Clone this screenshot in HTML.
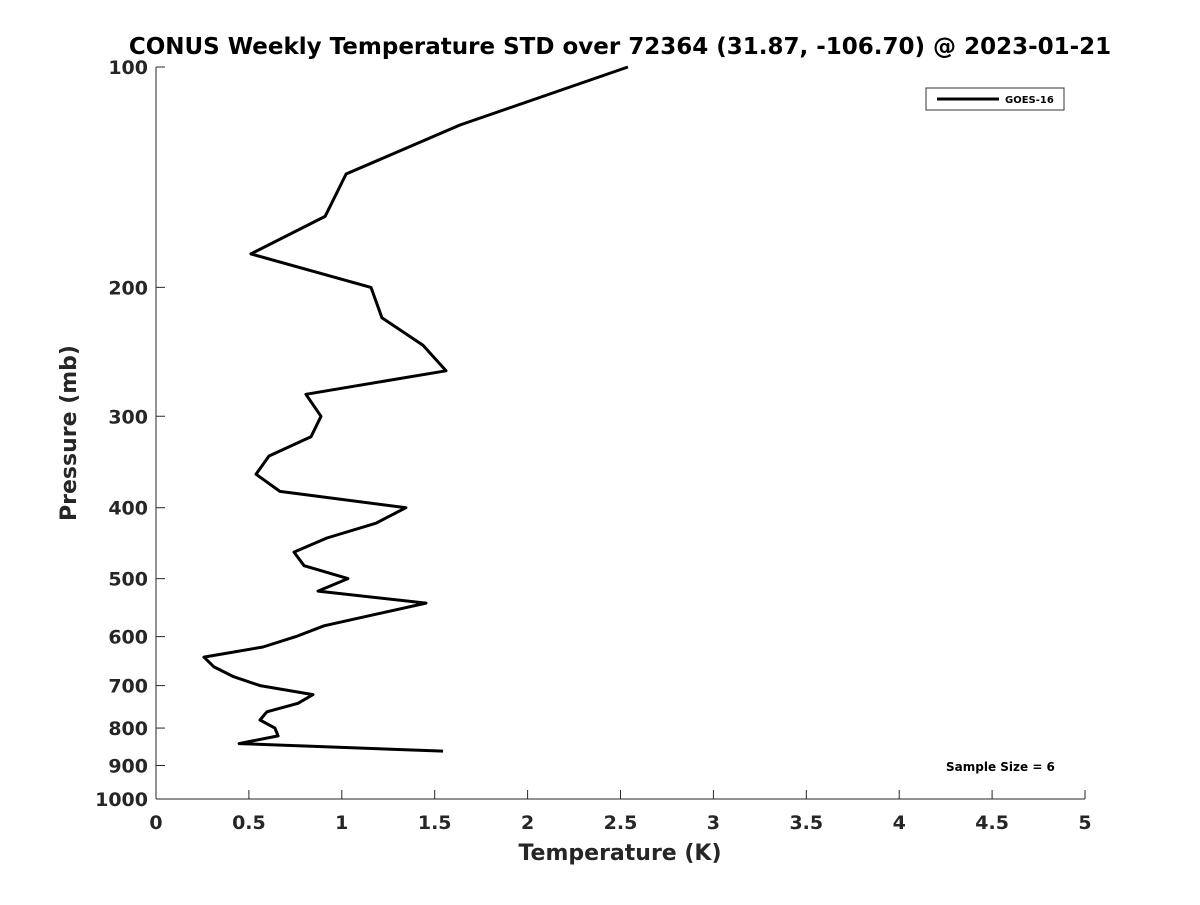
<!DOCTYPE html>
<html><head><meta charset="utf-8"><style>
body{margin:0;background:#fff;}
svg text{font-family:"DejaVu Sans","Liberation Sans",sans-serif;font-weight:bold;fill:#262626;}
</style></head><body>
<svg id="chart" width="1200" height="900" viewBox="0 0 1200 900" xmlns="http://www.w3.org/2000/svg">
<rect width="1200" height="900" fill="#fff"/>
<text x="620" y="54" text-anchor="middle" font-size="23" style="fill:#000">CONUS Weekly Temperature STD over 72364 (31.87, -106.70) @ 2023-01-21</text>
<g id="axes"></g>
<polyline id="line" fill="none" stroke="#000" stroke-width="3" stroke-linejoin="round"/>
<g>
<rect x="926" y="88" width="138" height="22" fill="#fff" stroke="#333" stroke-width="1"/>
<line x1="937" y1="99" x2="999" y2="99" stroke="#000" stroke-width="3"/>
<text x="1005" y="103" font-size="10" style="fill:#000">GOES-16</text>
</g>
<text x="946" y="771" font-size="12" style="fill:#000">Sample Size = 6</text>
<text x="620" y="860" text-anchor="middle" font-size="22">Temperature (K)</text>
<text transform="translate(76,433) rotate(-90)" text-anchor="middle" font-size="22">Pressure (mb)</text>
</svg>
<script>
const temps=[2.54,1.636,1.023,0.910,0.511,1.157,1.216,1.437,1.561,0.807,0.888,0.834,0.608,0.538,0.667,1.345,1.184,0.920,0.743,0.797,1.033,0.872,1.453,0.904,0.753,0.576,0.258,0.312,0.414,0.560,0.845,0.764,0.597,0.560,0.640,0.657,0.447,1.545];
const pressures=[100,120,140,160,180,200,220,240,260,280,300,320,340,360,380,400,420,440,460,480,500,520,540,580,600,620,640,660,680,700,720,740,760,780,800,820,840,860];
const xTicks=[0,0.5,1,1.5,2,2.5,3,3.5,4,4.5,5];
const xTickLabels=["0","0.5","1","1.5","2","2.5","3","3.5","4","4.5","5"];
const yTicks=[100,200,300,400,500,600,700,800,900,1000];
const X0=156,X1=1085,Y0=67,Y1=799;
const xs=v=>X0+(v-0)/5*(X1-X0);
const ys=p=>Y0+(Math.log10(p)-2)*(Y1-Y0);
const NS="http://www.w3.org/2000/svg";
const ax=document.getElementById('axes');
function mk(t,a){const e=document.createElementNS(NS,t);for(const k in a)e.setAttribute(k,a[k]);ax.appendChild(e);return e;}
let e=mk('line',{x1:X0,y1:Y0,x2:X0,y2:Y1,stroke:'#262626','stroke-width':1});


e=mk('line',{x1:X0,y1:Y1,x2:X1,y2:Y1,stroke:'#262626','stroke-width':1});


xTicks.forEach((v,i)=>{
 const t=mk('line',{x1:xs(v),y1:Y1,x2:xs(v),y2:Y1-9,stroke:'#262626'});
 
 
 const l=mk('text',{x:xs(v),y:Y1+30,'text-anchor':'middle','font-size':19});
 
 
 l.textContent=xTickLabels[i];
});
yTicks.forEach(p=>{
 const t=mk('line',{x1:X0,y1:ys(p),x2:X0+9,y2:ys(p),stroke:'#262626'});
 
 
 const l=mk('text',{x:X0-8,y:ys(p)+7,'text-anchor':'end','font-size':19});
 
 
 l.textContent=String(p);
});
document.getElementById('line').setAttribute('points',temps.map((t,i)=>xs(t).toFixed(1)+','+ys(pressures[i]).toFixed(1)).join(' '));
</script>
</body></html>
